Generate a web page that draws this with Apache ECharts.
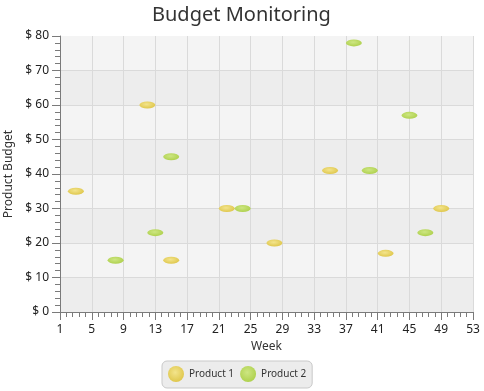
<!DOCTYPE html>
<html>
<head>
<meta charset="utf-8">
<script src="https://cdn.jsdelivr.net/npm/echarts@6/dist/echarts.min.js"></script>
<style>
html,body{margin:0;padding:0;background:#fff;}
#chart{width:484px;height:391px;}
</style>
</head>
<body>
<div id="chart"></div>
<script>
const titleText = 'Budget Monitoring';
const xName = 'Week';
const yName = 'Product Budget';
const seriesNames = ['Product 1', 'Product 2'];
const product1Weeks = [3, 12, 15, 22, 28, 35, 42, 49];
const product1Budget = [35, 60, 15, 30, 20, 41, 17, 30];
const product2Weeks = [8, 13, 15, 24, 38, 40, 45, 47];
const product2Budget = [15, 23, 45, 30, 78, 41, 57, 23];
const xTicks = [1, 5, 9, 13, 17, 21, 25, 29, 33, 37, 41, 45, 49, 53];
const yTicks = [0, 10, 20, 30, 40, 50, 60, 70, 80];

const FONT = '"Noto Sans", "Open Sans", sans-serif';
const chart = echarts.init(document.getElementById('chart'), null, {renderer: 'canvas'});

function radial(inner, outer) {
  return new echarts.graphic.RadialGradient(0.45, 0.4, 0.6, [
    {offset: 0, color: inner},
    {offset: 1, color: outer}
  ]);
}
const yellowFill = radial('#f3e48c', '#dfc74c');
const greenFill = radial('#cde682', '#afd14e');

const axisGray = '#7a7a7a';

chart.setOption({
  animation: false,
  backgroundColor: '#ffffff',
  title: {
    text: titleText,
    left: 147,
    top: 0,
    textStyle: {fontFamily: FONT, fontSize: 20, fontWeight: 'normal', color: '#333333'}
  },
  legend: {
    data: [
      {name: seriesNames[0], itemStyle: {color: yellowFill}},
      {name: seriesNames[1], itemStyle: {color: greenFill}}
    ],
    left: 162,
    top: 361,
    icon: 'circle',
    itemWidth: 16,
    itemHeight: 16,
    itemGap: 6,
    padding: [5, 6, 6, 6],
    backgroundColor: '#ececec',
    borderColor: '#c9c9c9',
    borderWidth: 1,
    borderRadius: 5,
    textStyle: {fontFamily: FONT, fontSize: 10, color: '#333333', padding: [0, 0, 0, 0]}
  },
  grid: {left: 60, right: 11, top: 36, bottom: 79, containLabel: false, outerBoundsMode: 'none'},
  xAxis: {
    type: 'value',
    min: xTicks[0],
    max: xTicks[xTicks.length - 1],
    interval: 4,
    name: xName,
    nameLocation: 'middle',
    nameGap: 23,
    nameTextStyle: {fontFamily: FONT, fontSize: 12, color: '#333333'},
    axisLine: {show: true, onZero: false, lineStyle: {color: axisGray, width: 1}},
    axisTick: {show: true, length: 8, lineStyle: {color: axisGray}},
    minorTick: {show: true, splitNumber: 5, length: 5, lineStyle: {color: axisGray}},
    axisLabel: {fontFamily: FONT, fontSize: 12, color: '#222222', margin: 12, showMinLabel: true, showMaxLabel: true},
    splitLine: {show: true, lineStyle: {color: '#dadada', width: 1}},
    splitArea: {show: false}
  },
  yAxis: {
    type: 'value',
    min: yTicks[0],
    max: yTicks[yTicks.length - 1],
    interval: 10,
    name: yName,
    nameLocation: 'middle',
    nameGap: 38,
    nameTextStyle: {fontFamily: FONT, fontSize: 12, color: '#333333'},
    axisLine: {show: true, lineStyle: {color: axisGray, width: 1}},
    axisTick: {show: true, length: 8, lineStyle: {color: axisGray}},
    minorTick: {show: true, splitNumber: 5, length: 5, lineStyle: {color: axisGray}},
    axisLabel: {fontFamily: FONT, fontSize: 12, color: '#222222', margin: 11, formatter: '$ {value}'},
    splitLine: {show: true, showMaxLine: false, lineStyle: {color: '#dadada', width: 1}},
    splitArea: {show: true, areaStyle: {color: ['#ededed', '#f4f4f4']}}
  },
  series: [
    {
      name: seriesNames[0],
      type: 'scatter',
      symbol: 'circle',
      symbolSize: [16, 7],
      itemStyle: {color: yellowFill, opacity: 1},
      data: product1Weeks.map((w, i) => [w, product1Budget[i]])
    },
    {
      name: seriesNames[1],
      type: 'scatter',
      symbol: 'circle',
      symbolSize: [16, 7],
      itemStyle: {color: greenFill, opacity: 1},
      data: product2Weeks.map((w, i) => [w, product2Budget[i]])
    }
  ]
});
</script>
</body>
</html>
